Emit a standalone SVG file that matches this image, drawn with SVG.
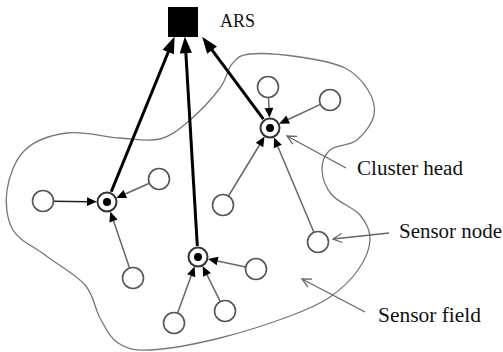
<svg xmlns="http://www.w3.org/2000/svg" width="503" height="352" viewBox="0 0 503 352">
<style>
.node{fill:#fff;stroke:#555;stroke-width:1.6}
.ring{fill:#fff;stroke:#333;stroke-width:2}
.dot{fill:#000}
.thick{stroke:#000;stroke-width:3;fill:none;marker-end:url(#bigHead)}
.thin{stroke:#666;stroke-width:1.5;fill:none;marker-end:url(#smallHead)}
.lbl{stroke:#666;stroke-width:1.3;fill:none;marker-end:url(#openHead)}
.field{fill:none;stroke:#777;stroke-width:1.3}
text{font-family:"Liberation Serif","Times New Roman",serif;font-size:20px;fill:#111}
</style>
<defs>
<marker id="bigHead" markerUnits="userSpaceOnUse" markerWidth="20" markerHeight="20" refX="1" refY="0" viewBox="-1 -7 18 14" orient="auto" overflow="visible">
<path d="M0,-5.5 L15,0 L0,5.5 Z" fill="#000"/>
</marker>
<marker id="smallHead" markerUnits="userSpaceOnUse" markerWidth="12" markerHeight="12" refX="0" refY="0" viewBox="-1 -5 11 10" orient="auto" overflow="visible">
<path d="M0,-4 L9,0 L0,4 Z" fill="#000"/>
</marker>
<marker id="openHead" markerUnits="userSpaceOnUse" markerWidth="12" markerHeight="12" refX="0" refY="0" viewBox="-10 -6 12 12" orient="auto" overflow="visible">
<path d="M-9,-4.5 L0,0 L-9,4.5" fill="none" stroke="#666" stroke-width="1.3"/>
</marker>
</defs>

<path id="sensor-field" class="field" d="M250,54 C261.3,52.8 284.2,54.7 300,57 C315.8,59.3 333.7,62.5 345,68 C356.3,73.5 363.2,82.2 368,90 C372.8,97.8 375.8,106.7 374,115 C372.2,123.3 364.3,134.2 357,140 C349.7,145.8 335.8,145 330,150 C324.2,155 321.7,162.5 322,170 C322.3,177.5 325.7,187.5 332,195 C338.3,202.5 353.7,207.5 360,215 C366.3,222.5 370.3,230.8 370,240 C369.7,249.2 364.7,260.5 358,270 C351.3,279.5 341.3,289.3 330,297 C318.7,304.7 308.3,309.2 290,316 C271.7,322.8 243.3,332.3 220,338 C196.7,343.7 167,349.2 150,350 C133,350.8 126.3,348.3 118,343 C109.7,337.7 105.5,327.7 100,318 C94.5,308.3 94.2,295.5 85,285 C75.8,274.5 57,264.2 45,255 C33,245.8 19.3,240.8 13,230 C6.7,219.2 5,203.3 7,190 C9,176.7 15,159.5 25,150 C35,140.5 51.2,135 67,133 C82.8,131 104.5,137 120,138 C135.5,139 148.3,142 160,139 C171.7,136 180,128.5 190,120 C200,111.5 213,97.3 220,88 C227,78.7 227,69.7 232,64 C237,58.3 238.7,55.2 250,54 Z"/>

<g id="connectors">
<line class="thick" x1="111.2" y1="191.8" x2="168.7" y2="51"/>
<line class="thick" x1="197.3" y1="246" x2="185.8" y2="52"/>
<line class="thick" x1="263.4" y1="119.2" x2="211.4" y2="49.2"/>

<line class="thin" style="stroke:#222" x1="53.5" y1="201.2" x2="87" y2="201.7"/>
<line class="thin" x1="149.4" y1="183.2" x2="125.3" y2="194"/>
<line class="thin" x1="129.6" y1="268.1" x2="113.5" y2="221"/>

<line class="thin" x1="245.7" y1="266.9" x2="217.6" y2="261"/>
<line class="thin" x1="220.3" y1="301.6" x2="207" y2="274.9"/>
<line class="thin" x1="177.6" y1="313.1" x2="191.2" y2="275.8"/>

<line class="thin" x1="268.5" y1="97.5" x2="269" y2="108"/>
<line class="thin" x1="320.5" y1="104.4" x2="288.1" y2="119.5"/>
<line class="thin" x1="228.5" y1="196" x2="259.5" y2="145"/>
<line class="thin" x1="313.9" y1="232.3" x2="277.8" y2="146.5"/>

<line class="lbl" x1="346" y1="168" x2="287" y2="136"/>
<line class="lbl" x1="389" y1="233" x2="333" y2="239"/>
<line class="lbl" x1="365" y1="312" x2="302" y2="279"/>
</g>

<g id="ars">
<rect x="168" y="7" width="30" height="30" fill="#000"/>
<text x="220" y="27" font-size="18" style="font-size:18px">ARS</text>
</g>

<g id="ch1"><circle class="ring" cx="107" cy="202" r="9.5"/><circle class="dot" cx="107" cy="202" r="4"/></g>
<g id="ch2"><circle class="ring" cx="198" cy="257" r="9.5"/><circle class="dot" cx="198" cy="257" r="4"/></g>
<g id="ch3"><circle class="ring" cx="270" cy="128" r="9.5"/><circle class="dot" cx="270" cy="128" r="4"/></g>

<g id="n1"><circle class="node" cx="43" cy="201" r="10.5"/></g>
<g id="n2"><circle class="node" cx="159" cy="179" r="10.5"/></g>
<g id="n3"><circle class="node" cx="133" cy="278" r="10.5"/></g>
<g id="n4"><circle class="node" cx="256" cy="269" r="10.5"/></g>
<g id="n5"><circle class="node" cx="225" cy="311" r="10.5"/></g>
<g id="n6"><circle class="node" cx="174" cy="323" r="10.5"/></g>
<g id="n7"><circle class="node" cx="268" cy="87" r="10.5"/></g>
<g id="n8"><circle class="node" cx="330" cy="100" r="10.5"/></g>
<g id="n9"><circle class="node" cx="223" cy="205" r="10.5"/></g>
<g id="n10"><circle class="node" cx="318" cy="242" r="10.5"/></g>

<g id="labels">
<text x="357" y="175" textLength="106" lengthAdjust="spacingAndGlyphs">Cluster head</text>
<text x="399" y="238" textLength="103" lengthAdjust="spacingAndGlyphs">Sensor node</text>
<text x="378" y="322" textLength="103" lengthAdjust="spacingAndGlyphs">Sensor field</text>
</g>
</svg>
